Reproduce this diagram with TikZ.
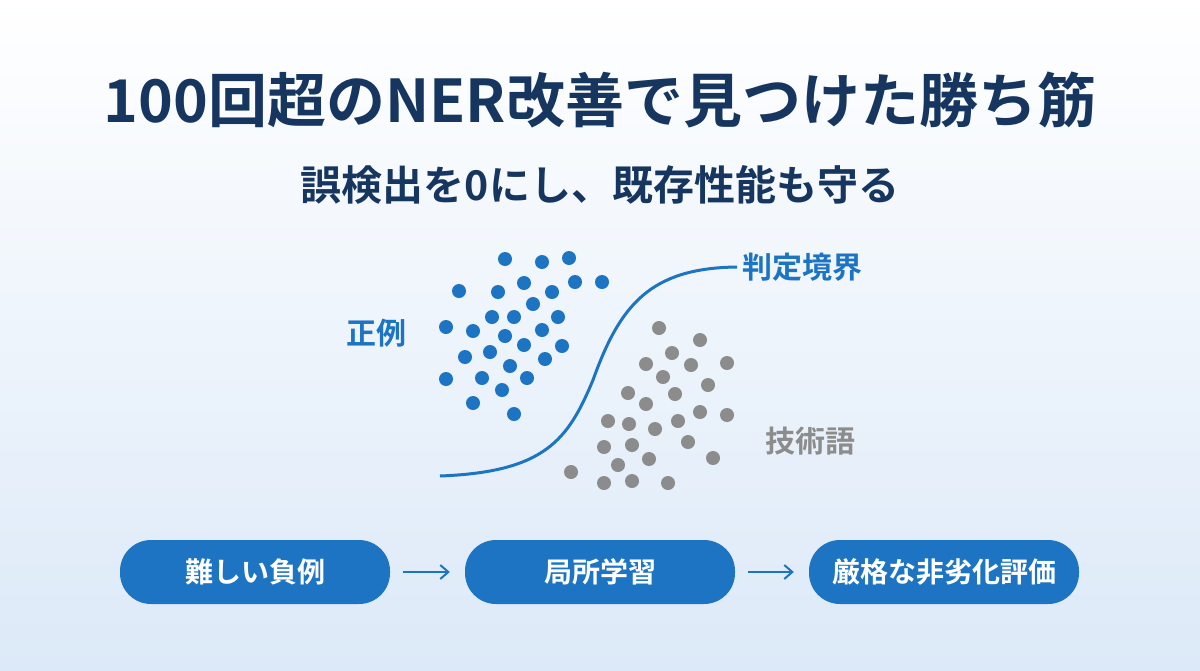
\documentclass[tikz,border=0pt]{standalone}
\usepackage{fontspec}
\setmainfont{Noto Sans CJK JP}[BoldFont={* Bold}]
\usetikzlibrary{positioning,arrows.meta}
\definecolor{navy}{HTML}{16365F}
\definecolor{pblue}{HTML}{1C74C2}
\definecolor{dotgray}{HTML}{8C8C8C}
\definecolor{bgblue}{HTML}{DCE9F8}
\tikzset{
  posdot/.style={circle, fill=pblue, inner sep=0pt, minimum size=14pt},
  negdot/.style={circle, fill=dotgray, inner sep=0pt, minimum size=14pt},
  pill/.style={rounded corners=31pt, fill=pblue, text=white, minimum width=270pt, minimum height=64pt, font=\bfseries\fontsize{28}{32}\selectfont},
  connect/.style={-{Straight Barb[length=8pt,width=14pt]}, pblue, line width=2pt, shorten <=13pt, shorten >=15pt}
}
\begin{document}
\begin{tikzpicture}[x=1pt,y=-1pt]
    \shade[top color=white, bottom color=bgblue] (0,0) rectangle (1200,670);
    \useasboundingbox (0,0) rectangle (1200,670);
    \node[text=navy, font=\bfseries\fontsize{59}{64}\selectfont] (Title) at (600,100) {100回超のNER改善で見つけた勝ち筋};
    \node[text=navy, font=\bfseries\fontsize{41}{46}\selectfont] (Sub) at (600,185) {誤検出を0にし、既存性能も守る};

    % positive examples
    \foreach \x/\y [count=\i] in {505/259,542/262,569/258,524/283,575/282,602/282,459/291,498/292,552/292,533/304,492/317,514/317,558/317,446/327,473/331,505/336,542/330,524/345,490/352,562/346,465/357,510/366,545/359,446/379,482/378,527/378,502/390,473/403,514/414}
        \node[posdot] (P\i) at (\x,\y) {};
    % technical terms
    \foreach \x/\y [count=\i] in {659/328,700/340,672/353,646/364,691/365,727/363,663/377,708/385,628/393,675/394,646/404,700/412,727/415,608/421,629/424,678/421,655/429,604/447,632/445,688/442,649/459,713/458,618/465,571/472,604/483,632/481,668/483}
        \node[negdot] (N\i) at (\x,\y) {};

    \coordinate (b0) at (440,476);
    \coordinate (b1) at (593,380);
    \coordinate (b2) at (737,267);
    \draw[pblue, line width=3pt] (b0) .. controls (545,472) and (568,440) .. (b1)
        .. controls (620,305) and (650,268) .. (b2);

    \node[text=pblue, font=\bfseries\fontsize{30}{34}\selectfont] (PosLabel) at (376,333) {正例};
    \node[text=pblue, font=\bfseries\fontsize{30}{34}\selectfont, right=2pt of b2] (Boundary) {判定境界};
    \node[text=dotgray, font=\bfseries\fontsize{30}{34}\selectfont] (NegLabel) at (810,441) {技術語};

    \node[pill] (S1) at (255,572) {難しい負例};
    \node[pill] (S2) at (600,572) {局所学習};
    \node[pill] (S3) at (944,572) {厳格な非劣化評価};
    \draw[connect] (S1) -- (S2);
    \draw[connect] (S2) -- (S3);
\end{tikzpicture}
\end{document}
